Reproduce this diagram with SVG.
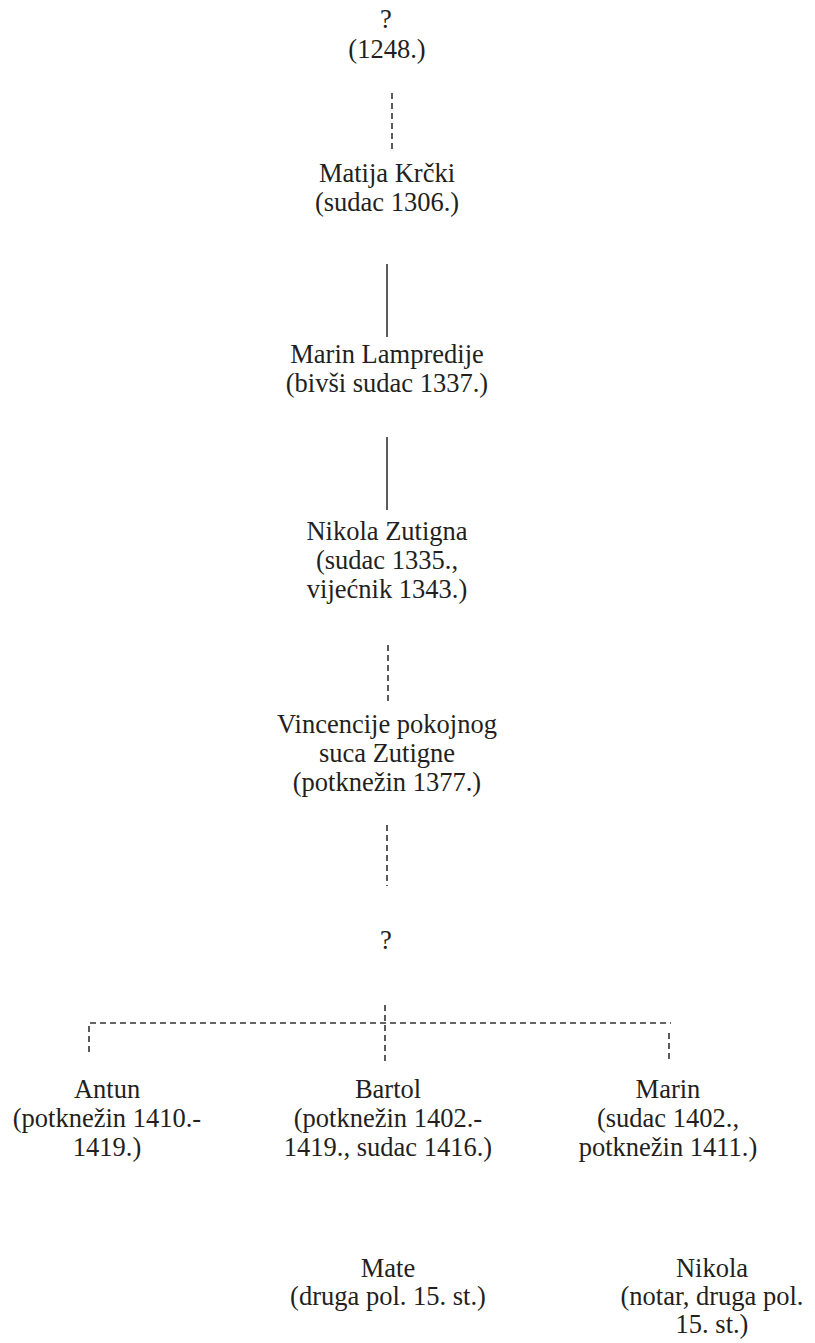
<svg xmlns="http://www.w3.org/2000/svg" width="815" height="1343" viewBox="0 0 815 1343">
<style>
text{font-family:'Liberation Serif','DejaVu Serif',serif;font-size:26.5px;fill:#231f20;text-anchor:middle}
.c{stroke:#333;stroke-width:1.6;fill:none}
.d{stroke-dasharray:6 4}
</style>
<rect width="815" height="1343" fill="#fff"/>
<g id="connectors">
<line class="c d" x1="392" y1="93" x2="392" y2="152"/>
<line class="c" x1="387" y1="264" x2="387" y2="337"/>
<line class="c" x1="387" y1="437" x2="387" y2="510"/>
<line class="c d" x1="388" y1="645" x2="388" y2="703"/>
<line class="c d" x1="387" y1="825" x2="387" y2="886"/>
<line class="c d" x1="385" y1="1005" x2="385" y2="1063"/>
<polyline class="c d" points="89,1052 89,1023 671,1023"/>
<line class="c d" x1="669" y1="1033" x2="669" y2="1062"/>
</g>
<g id="nodes" font-family="Liberation Serif, DejaVu Serif, serif">
<g id="n1"><text x="386" y="28">?</text><text x="387" y="58">(1248.)</text></g>
<g id="n2"><text x="387" y="182">Matija Krčki</text><text x="387" y="211">(sudac 1306.)</text></g>
<g id="n3"><text x="387" y="363">Marin Lampredije</text><text x="387" y="392">(bivši sudac 1337.)</text></g>
<g id="n4"><text x="387" y="540">Nikola Zutigna</text><text x="387" y="569">(sudac 1335.,</text><text x="387" y="598">vijećnik 1343.)</text></g>
<g id="n5"><text x="387" y="733">Vincencije pokojnog</text><text x="387" y="762">suca Zutigne</text><text x="387" y="791">(potknežin 1377.)</text></g>
<g id="n6"><text x="386" y="949">?</text></g>
<g id="n7"><text x="107" y="1098">Antun</text><text x="107" y="1127">(potknežin 1410.-</text><text x="107" y="1156">1419.)</text></g>
<g id="n8"><text x="388" y="1098">Bartol</text><text x="388" y="1127">(potknežin 1402.-</text><text x="388" y="1156">1419., sudac 1416.)</text></g>
<g id="n9"><text x="668" y="1098">Marin</text><text x="668" y="1127">(sudac 1402.,</text><text x="668" y="1156">potknežin 1411.)</text></g>
<g id="n10"><text x="388" y="1277">Mate</text><text x="388" y="1305">(druga pol. 15. st.)</text></g>
<g id="n11"><text x="712" y="1277">Nikola</text><text x="712" y="1305">(notar, druga pol.</text><text x="712" y="1333">15. st.)</text></g>
</g>
</svg>
